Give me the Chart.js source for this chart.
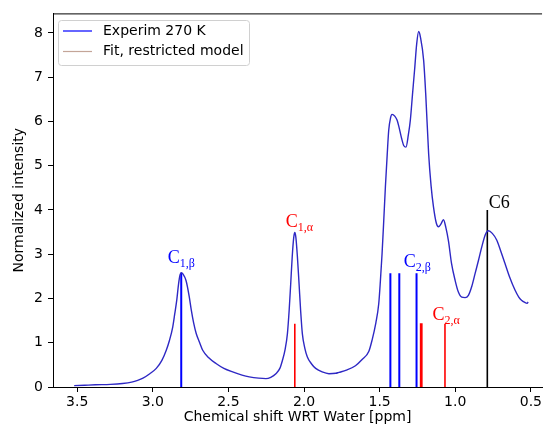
<!DOCTYPE html>
<html>
<head>
<meta charset="utf-8">
<script src="https://cdn.jsdelivr.net/npm/chart.js@4.4.1/dist/chart.umd.min.js"></script>
<style>
  html, body { margin: 0; padding: 0; background: #fff; overflow: hidden; }
</style>
</head>
<body>
<canvas id="nmr" width="544" height="429"></canvas>
<script>
const shiftPpm = [3.52, 3.45, 3.38, 3.28, 3.20, 3.14, 3.10, 3.065, 3.02, 2.977, 2.94, 2.911, 2.89, 2.868, 2.855, 2.841, 2.83, 2.82, 2.812, 2.80,
  2.78, 2.76, 2.746, 2.73, 2.713, 2.69, 2.67, 2.63, 2.582, 2.53, 2.472, 2.41, 2.362, 2.30, 2.252, 2.22, 2.186, 2.16, 2.143, 2.125,
  2.11, 2.098, 2.088, 2.078, 2.068, 2.061, 2.054, 2.044, 2.033, 2.022, 2.011, 1.995, 1.978, 1.95, 1.923, 1.88, 1.835, 1.79, 1.77, 1.72,
  1.66, 1.616, 1.572, 1.55, 1.525, 1.506, 1.495, 1.484, 1.473, 1.462, 1.45, 1.44, 1.428, 1.418, 1.40, 1.385, 1.374, 1.355, 1.34, 1.326,
  1.31, 1.297, 1.283, 1.269, 1.255, 1.242, 1.23, 1.209, 1.195, 1.176, 1.16, 1.144, 1.125, 1.111, 1.095, 1.078, 1.062, 1.045, 1.025, 1.001,
  0.98, 0.957, 0.935, 0.913, 0.89, 0.869, 0.845, 0.825, 0.80, 0.781, 0.755, 0.726, 0.70, 0.671, 0.64, 0.605, 0.58, 0.562, 0.54, 0.525, 0.518];
const intensity = [0.03, 0.04, 0.05, 0.06, 0.08, 0.11, 0.15, 0.20, 0.30, 0.42, 0.60, 0.83, 1.05, 1.36, 1.65, 1.98, 2.32, 2.53, 2.58, 2.55,
  2.40, 2.06, 1.75, 1.45, 1.21, 1.00, 0.83, 0.66, 0.53, 0.42, 0.34, 0.27, 0.23, 0.20, 0.19, 0.22, 0.30, 0.42, 0.60, 0.85,
  1.20, 1.75, 2.34, 2.95, 3.38, 3.49, 3.38, 2.95, 2.34, 1.70, 1.20, 0.88, 0.68, 0.52, 0.42, 0.34, 0.30, 0.31, 0.33, 0.38,
  0.48, 0.62, 0.80, 1.06, 1.45, 1.88, 2.40, 3.01, 3.75, 4.52, 5.25, 5.80, 6.08, 6.16, 6.12, 6.03, 5.90, 5.62, 5.45, 5.42,
  5.70, 6.03, 6.60, 7.16, 7.75, 8.03, 7.90, 7.38, 6.60, 5.27, 4.55, 4.07, 3.70, 3.62, 3.68, 3.78, 3.60, 3.30, 2.80, 2.41,
  2.15, 2.03, 2.02, 2.07, 2.28, 2.56, 2.88, 3.16, 3.45, 3.53, 3.47, 3.32, 3.08, 2.79, 2.48, 2.19, 2.03, 1.96, 1.91, 1.89, 1.92];

// fitted stick positions [ppm] and heights
const betaPpm = [2.812, 1.429, 1.370, 1.256];
const betaHeight = [2.58, 2.57, 2.57, 2.57];
const alphaPpm = [2.061, 1.229, 1.221, 1.068];
const alphaHeight = [1.43, 1.44, 1.44, 1.43];
const c6Ppm = [0.788];
const c6Height = [4.0];

const xTicks = [3.5, 3.0, 2.5, 2.0, 1.5, 1.0, 0.5];
const yTicks = [0, 1, 2, 3, 4, 5, 6, 7, 8];

// peak labels: main text, subscript, left edge (ppm), baseline (intensity)
const peakLabels = [
  { main: 'C', sub: '1,β', x: 2.902, y: 2.80, color: '#0000ff' },
  { main: 'C', sub: '1,α', x: 2.121, y: 3.61, color: '#ff0000' },
  { main: 'C', sub: '2,β', x: 1.341, y: 2.71, color: '#0000ff' },
  { main: 'C', sub: '2,α', x: 1.150, y: 1.51, color: '#ff0000' },
  { main: 'C6', sub: '', x: 0.779, y: 4.04, color: '#000000' }
];

function sticks(pos, h) {
  const out = [];
  pos.forEach((p, i) => {
    out.push({ x: p, y: 0 }, { x: p, y: h[i] }, { x: p, y: null });
  });
  return out;
}

const labelPlugin = {
  id: 'labels',
  afterDatasetsDraw(chart) {
    const { ctx, scales: { x, y } } = chart;
    ctx.save();
    ctx.textBaseline = 'alphabetic';
    ctx.textAlign = 'left';
    peakLabels.forEach(l => {
      const px = x.getPixelForValue(l.x);
      const py = y.getPixelForValue(l.y);
      ctx.fillStyle = l.color;
      ctx.font = '18px "Liberation Serif"';
      ctx.fillText(l.main, px, py);
      const w = ctx.measureText(l.main).width;
      if (l.sub) {
        ctx.font = '12px "Liberation Serif"';
        ctx.fillText(l.sub, px + w, py + 4);
      }
    });
    ctx.restore();
  }
};

const framePlugin = {
  id: 'frame',
  afterDraw(chart) {
    const { ctx, chartArea: a } = chart;
    ctx.save();
    // top spine (right spine lies outside the picture)
    ctx.strokeStyle = '#000';
    ctx.lineWidth = 1;
    ctx.beginPath();
    ctx.moveTo(a.left, a.top + 0.5);
    ctx.lineTo(a.right, a.top + 0.5);
    ctx.stroke();

    // legend box
    const bx = 58.5, by = 20.5, bw = 191, bh = 45, r = 3;
    ctx.beginPath();
    ctx.roundRect(bx, by, bw, bh, r);
    ctx.fillStyle = 'rgba(255,255,255,0.8)';
    ctx.fill();
    ctx.strokeStyle = '#d0d0d0';
    ctx.stroke();

    ctx.lineWidth = 1.2;
    ctx.strokeStyle = '#0000ff';
    ctx.beginPath(); ctx.moveTo(63, 31); ctx.lineTo(92, 31); ctx.stroke();
    ctx.strokeStyle = '#c4a598';
    ctx.beginPath(); ctx.moveTo(63, 51.5); ctx.lineTo(92, 51.5); ctx.stroke();

    ctx.fillStyle = '#000';
    ctx.font = '14px "DejaVu Sans"';
    ctx.textBaseline = 'middle';
    ctx.fillText('Experim 270 K', 103, 31);
    ctx.fillText('Fit, restricted model', 103, 51.5);
    ctx.restore();
  }
};

const ctx = document.getElementById('nmr').getContext('2d');
const nmrChart = new Chart(ctx, {
  type: 'line',
  data: {
    datasets: [
      {
        label: 'Experim 270 K',
        data: shiftPpm.map((v, i) => ({ x: v, y: intensity[i] })),
        borderColor: 'rgb(46,40,196)',
        borderWidth: 1.4,
        pointRadius: 0,
        cubicInterpolationMode: 'monotone',
        fill: false
      },
      {
        label: 'beta',
        data: sticks(betaPpm, betaHeight),
        borderColor: '#0000ff',
        borderWidth: 2,
        pointRadius: 0,
        spanGaps: false
      },
      {
        label: 'alpha',
        data: sticks(alphaPpm, alphaHeight),
        borderColor: '#ff0000',
        borderWidth: 1.6,
        pointRadius: 0,
        spanGaps: false
      },
      {
        label: 'C6',
        data: sticks(c6Ppm, c6Height),
        borderColor: '#000000',
        borderWidth: 1.6,
        pointRadius: 0,
        spanGaps: false
      }
    ]
  },
  options: {
    responsive: false,
    animation: false,
    devicePixelRatio: 1,
    layout: { padding: { left: 0, right: 0, top: 13, bottom: 0 } },
    plugins: {
      legend: { display: false },
      tooltip: { enabled: false }
    },
    scales: {
      x: {
        type: 'linear',
        reverse: true,
        min: 0.426,
        max: 3.66,
        afterFit: s => { s.height = 42; },
        afterBuildTicks: s => { s.ticks = xTicks.map(v => ({ value: v })); },
        ticks: {
          padding: 2,
          color: '#000',
          font: { family: 'DejaVu Sans', size: 14 },
          callback: v => v.toFixed(1)
        },
        grid: { drawOnChartArea: false, drawTicks: true, tickLength: 5, color: '#000' },
        border: { display: true, color: '#000', width: 1 },
        title: {
          display: true,
          text: 'Chemical shift WRT Water [ppm]',
          color: '#000',
          font: { family: 'DejaVu Sans', size: 14, lineHeight: 1 },
          padding: { top: 0, bottom: 5 }
        }
      },
      y: {
        type: 'linear',
        min: 0,
        max: 8.44,
        afterFit: s => { s.width = 53; },
        afterBuildTicks: s => { s.ticks = yTicks.map(v => ({ value: v })); },
        ticks: {
          padding: 5,
          color: '#000',
          font: { family: 'DejaVu Sans', size: 14 },
          callback: v => String(v)
        },
        grid: { drawOnChartArea: false, drawTicks: true, tickLength: 5, color: '#000' },
        border: { display: true, color: '#000', width: 1 },
        title: {
          display: true,
          text: 'Normalized intensity',
          color: '#000',
          font: { family: 'DejaVu Sans', size: 14, lineHeight: 1 },
          padding: { top: 12, bottom: 0 }
        }
      }
    }
  },
  plugins: [labelPlugin, framePlugin]
});
</script>
</body>
</html>
